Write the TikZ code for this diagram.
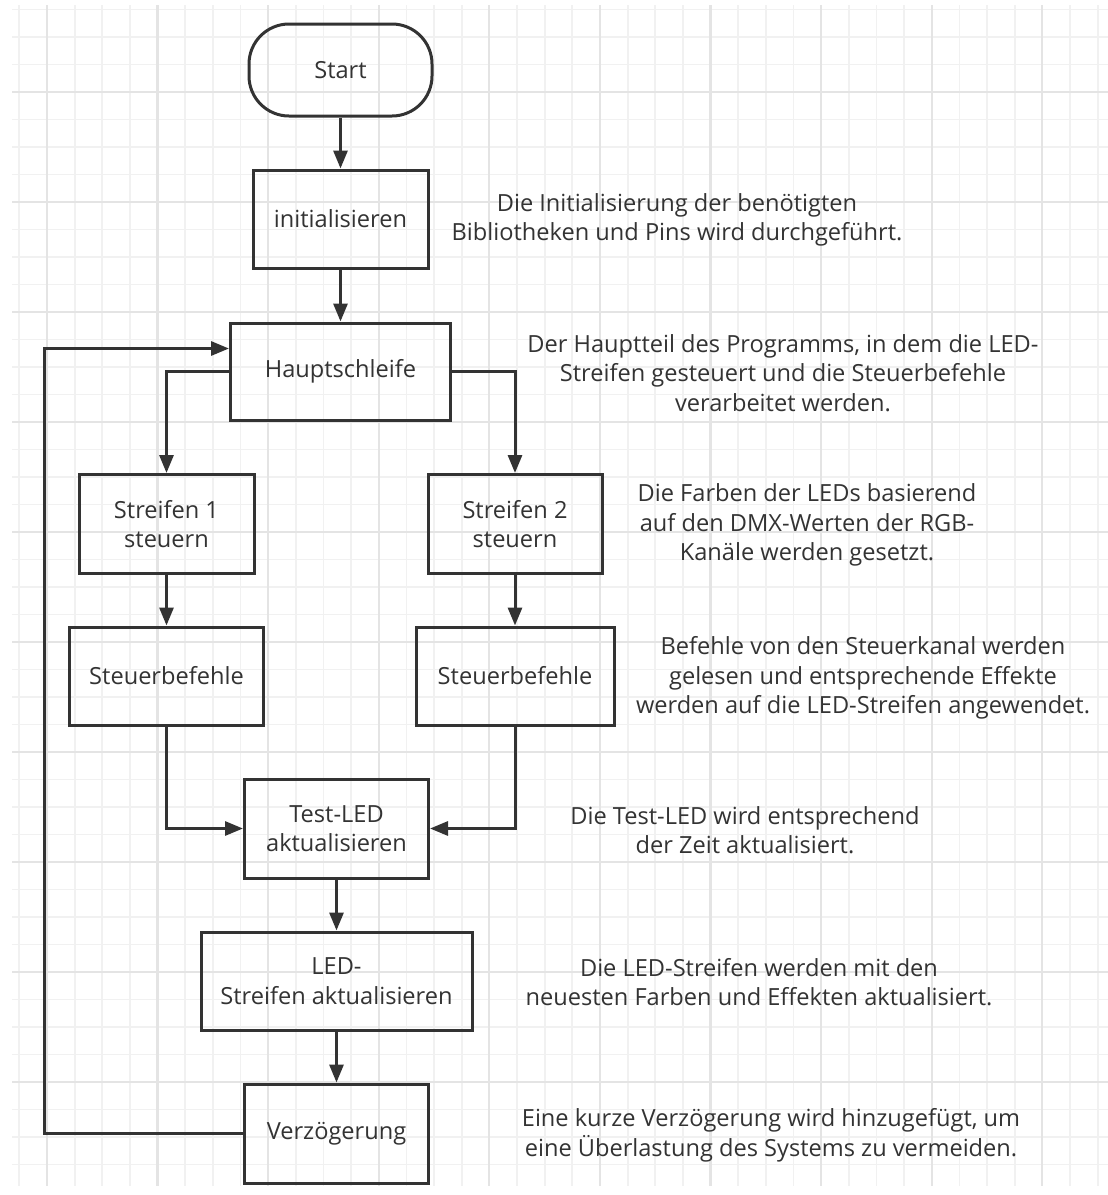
\documentclass[tikz,border=0pt]{standalone}
\usepackage{fontspec}
\setmainfont{Open Sans}
\usepackage{xcolor}
\usepackage{tikz}
\usetikzlibrary{arrows.meta, positioning}

\definecolor{linegray}{HTML}{333333}
\definecolor{minorgrid}{HTML}{F1F1F1}
\definecolor{majorgrid}{HTML}{E4E4E4}

\begin{document}
\begin{tikzpicture}[x=0.5pt, y=-0.5pt,
  font=\fontsize{11.8}{14.8}\selectfont, text=linegray,
  flowbox/.style={draw=linegray, line width=1.5pt, align=center, inner sep=0pt},
  startbox/.style={flowbox, rounded corners=20pt},
  note/.style={align=center, inner sep=0pt},
  flowarrow/.style={draw=linegray, line width=1.5pt, -{Triangle[length=9pt, width=7pt]}},
  thingrid/.style={draw=minorgrid, line width=0.9pt},
  thickgrid/.style={draw=majorgrid, line width=1.1pt}]

  \useasboundingbox (0,0) rectangle (1108,1195);
  \fill[white] (0,0) rectangle (1108,1195);

  % background grid
  \foreach \i in {0,...,39}
    \draw[thingrid] ({19.3+27.65*\i},5) -- ({19.3+27.65*\i},1186);
  \foreach \j in {0,...,42}
    \draw[thingrid] (12,{9.5+27.5*\j}) -- (1108,{9.5+27.5*\j});
  \foreach \i in {1,5,...,37}
    \draw[thickgrid] ({19.3+27.65*\i},5) -- ({19.3+27.65*\i},1186);
  \foreach \j in {3,7,...,39}
    \draw[thickgrid] (12,{9.5+27.5*\j}) -- (1108,{9.5+27.5*\j});

  % flow nodes
  \node[startbox, minimum width=91.5pt, minimum height=46pt] (start) at (340.5, 70) {Start};
  \node[flowbox, minimum width=87.5pt, minimum height=49pt] (init) at (340.5, 219) {initialisieren};
  \node[flowbox, minimum width=110pt, minimum height=48.5pt] (haupt) at (340.5, 371.5) {Hauptschleife};

  \node[flowbox, minimum width=87.5pt, minimum height=49.5pt] (strip1) at (166.5, 524) {Streifen 1\\steuern};
  \node[flowbox, minimum width=87pt, minimum height=49.5pt] (strip2) at (515, 524) {Streifen 2\\steuern};

  \node[flowbox, minimum width=97pt, minimum height=49pt] (cmd1) at (166.5, 676) {Steuerbefehle};
  \node[flowbox, minimum width=99pt, minimum height=49pt] (cmd2) at (515, 676) {Steuerbefehle};

  \node[flowbox, minimum width=92pt, minimum height=49.5pt] (testled) at (336.5, 828.5) {Test-LED\\aktualisieren};
  \node[flowbox, minimum width=135.5pt, minimum height=49pt] (ledupd) at (336.5, 981) {LED-\\Streifen aktualisieren};
  \node[flowbox, minimum width=92pt, minimum height=49.5pt] (delay) at (336.5, 1133.5) {Verzögerung};

  % notes
  \node[note] (noteinit) at (677, 220) {Die Initialisierung der benötigten\\Bibliotheken und Pins wird durchgeführt.};
  \node[note] (notehaupt) at (783, 373) {Der Hauptteil des Programms, in dem die LED-\\Streifen gesteuert und die Steuerbefehle\\verarbeitet werden.};
  \node[note] (notestrip) at (807, 525) {Die Farben der LEDs basierend\\auf den DMX-Werten der RGB-\\Kanäle werden gesetzt.};
  \node[note] (notecmd) at (863, 678) {Befehle von den Steuerkanal werden\\gelesen und entsprechende Effekte\\werden auf die LED-Streifen angewendet.};
  \node[note] (notetest) at (745, 830) {Die Test-LED wird entsprechend\\der Zeit aktualisiert.};
  \node[note] (noteled) at (759, 982) {Die LED-Streifen werden mit den\\neuesten Farben und Effekten aktualisiert.};
  \node[note] (notedelay) at (771, 1135) {Eine kurze Verzögerung wird hinzugefügt, um\\eine Überlastung des Systems zu vermeiden.};

  % connectors
  \draw[flowarrow] (start) -- (init);
  \draw[flowarrow] (init) -- (haupt);
  \draw[flowarrow] (haupt.west) -| (strip1.north);
  \draw[flowarrow] (haupt.east) -| (strip2.north);
  \draw[flowarrow] (strip1) -- (cmd1);
  \draw[flowarrow] (strip2) -- (cmd2);
  \draw[flowarrow] (cmd1.south) |- (testled.west);
  \draw[flowarrow] (cmd2.south) |- (testled.east);
  \draw[flowarrow] (testled) -- (ledupd);
  \draw[flowarrow] (ledupd) -- (delay);

  % loop back to the main loop
  \coordinate (loopturn) at (44, 1133.5);
  \draw[flowarrow] (delay.west) -- (loopturn) |- ([yshift=11.5pt]haupt.west);

\end{tikzpicture}
\end{document}
